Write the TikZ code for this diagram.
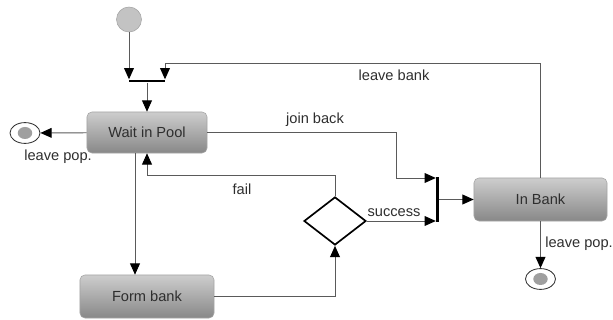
\documentclass[tikz,border=0pt]{standalone}
\usepackage{fontspec}
\setmainfont{Liberation Sans}
\usetikzlibrary{shapes.geometric,arrows.meta}

\definecolor{boxtop}{HTML}{CDCDCD}
\definecolor{boxbottom}{HTML}{888888}
\definecolor{boxline}{HTML}{A4A4A4}
\definecolor{lineclr}{HTML}{5A5A5A}
\definecolor{textclr}{HTML}{2E2E2E}

\tikzset{
  state/.style={rectangle, rounded corners=3.5pt, draw=boxline, top color=boxtop,
    bottom color=boxbottom, text=textclr, inner sep=0pt},
  startdot/.style={circle, draw=boxline, fill=boxtop!95!black, minimum size=0.625cm, inner sep=0pt},
  enddot/.style={ellipse, draw=black!80, fill=white, line width=0.6pt, minimum width=0.75cm,
    minimum height=0.52cm, inner sep=0pt,
    path picture={\fill[gray!75] (path picture bounding box.center) ellipse (0.18cm and 0.15cm);}},
  syncbar/.style={rectangle, fill=black, inner sep=0pt},
  choice/.style={diamond, draw=black, line width=1.2pt, fill=white, aspect=1.3, inner sep=0pt,
    minimum width=1.55cm, minimum height=1.2cm},
  flow/.style={draw=lineclr, line width=0.7pt, -{Triangle[length=8pt,width=7pt,color=black]}},
  lbl/.style={text=textclr}
}

\begin{document}
\begin{tikzpicture}[x=0.025cm, y=-0.025cm, font=\fontsize{10.4}{12}\selectfont]
    \useasboundingbox (0,0) rectangle (613,320);

    % states
    \node[startdot] (start) at (129,19.5) {};
    \node[syncbar, minimum width=0.9cm, minimum height=2pt] (join) at (147,81) {};
    \node[state, minimum width=3cm, minimum height=1.025cm] (pool) at (147,132.5) {Wait in Pool};
    \node[state, minimum width=3.35cm, minimum height=1.075cm] (formbank) at (147,296.5) {Form bank};
    \node[choice] (decide) at (335,221) {};
    \node[syncbar, minimum width=2pt, minimum height=1.125cm] (merge) at (437.5,199.5) {};
    \node[state, minimum width=3.325cm, minimum height=1.075cm] (inbank) at (540.5,199.5) {In Bank};
    \node[enddot] (endpool) at (25,133) {};
    \node[enddot] (endbank) at (540.5,279) {};

    % bends
    \coordinate (back) at (165,63);
    \coordinate (jb) at (396,178);
    \coordinate (fl) at (335,175);

    % transitions
    \draw[flow] (start) -- (start |- join.north);
    \draw[flow] (inbank.north) |- (back) -- (back |- join.north);
    \draw[flow] (join) -- (pool);
    \draw[flow] (pool) -- (endpool);
    \draw[flow] (pool.east) -| (jb) -- (jb -| merge.west);
    \draw[flow] (decide.east) -- (decide.east -| merge.west);
    \draw[flow] (merge) -- (inbank);
    \draw[flow] (decide.north) -- (fl) -| (pool.south);
    \draw[flow] ([xshift=-0.3cm]pool.south) -- ([xshift=-0.3cm]pool.south |- formbank.north);
    \draw[flow] (formbank.east) -| (decide.south);
    \draw[flow] (inbank) -- (endbank);

    % labels
    \node[lbl] (lleavebank) at (394,75) {leave bank};
    \node[lbl] (ljoinback) at (315,120) {join back};
    \node[lbl] (lfail) at (242,189) {fail};
    \node[lbl] (lsuccess) at (394,213) {success};
    \node[lbl] (lleavepool) at (58,157) {leave pop.};
    \node[lbl] (lleavebankpop) at (579,244) {leave pop.};
\end{tikzpicture}
\end{document}
